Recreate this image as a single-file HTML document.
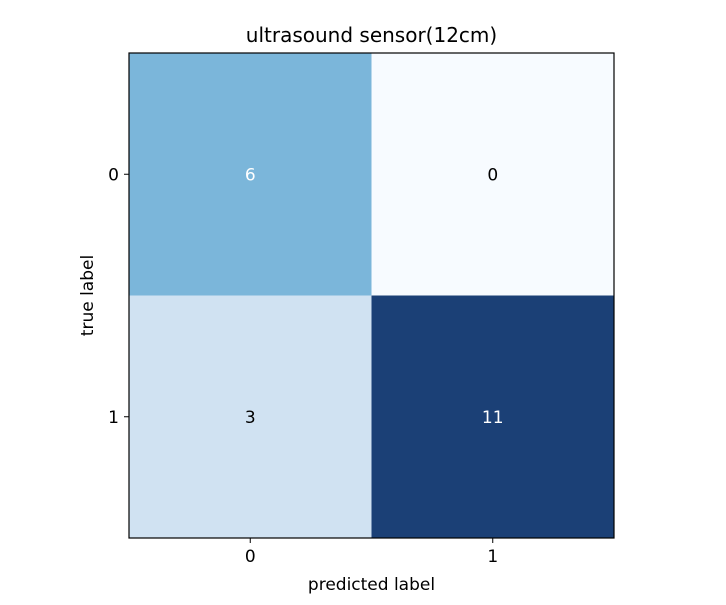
<!DOCTYPE html>
<html><head><meta charset="utf-8"><style>
body{margin:0;background:#fff;width:726px;height:600px;overflow:hidden;font-family:"Liberation Sans","DejaVu Sans",sans-serif}
</style></head><body>
<svg id="chart" width="726" height="600" font-family="DejaVu Sans, Liberation Sans, sans-serif"></svg>
<script>
const rowLabels=["0","1"];
const colLabels=["0","1"];
const values=[[6,0],[3,11]];
const titleText="ultrasound sensor(12cm)";
const svg=document.getElementById('chart');
const NS="http://www.w3.org/2000/svg";
const L=129,T=53,S=485,n=2,cw=S/n;
const maxV=Math.max(...values.flat()),minV=Math.min(...values.flat());
const stops=["#f7fbff","#deebf7","#c6dbef","#9ecae1","#6baed6","#4292c6","#2171b5","#08519c","#08306b"];
function hx(h){return [1,3,5].map(i=>parseInt(h.substr(i,2),16));}
function color(v){const t=Math.pow((v-minV)/(maxV-minV||1),1.18)*(stops.length-1);const i=Math.min(Math.floor(t),stops.length-2),f=t-i;
const a=hx(stops[i]),b=hx(stops[i+1]);const c=a.map((x,k)=>x+(b[k]-x)*f).map(x=>Math.round(0.92*x+20));return `rgb(${c})`;}
function xs(j){return L+j*cw;} function ys(i){return T+i*cw;}
function el(tag,attrs,txt){const e=document.createElementNS(NS,tag);for(const k in attrs)e.setAttribute(k,attrs[k]);if(txt!==undefined)e.textContent=txt;svg.appendChild(e);return e;}
values.forEach((row,i)=>row.forEach((v,j)=>{
 const r=el('rect',{x:xs(j),y:ys(i),width:cw+0.5,height:cw+0.5,fill:color(v)});
 
 
 const t=el('text',{x:xs(j)+cw/2,y:ys(i)+cw/2+6,'text-anchor':'middle','font-size':17,fill:v>maxV/2?'#fff':'#000'},String(v));
 
 
}));
const fr=el('rect',{x:L,y:T,width:S,height:S,fill:'none',stroke:'#000','stroke-width':1.2});


colLabels.forEach((c,j)=>{const x=xs(j)+cw/2;
 el('line',{x1:x,x2:x,y1:T+S,y2:T+S+5,stroke:'#000'});
 const t=el('text',{x:x,y:T+S+24,'text-anchor':'middle','font-size':17},c);
 
 });
rowLabels.forEach((c,i)=>{const y=ys(i)+cw/2;
 el('line',{x1:L-5,x2:L,y1:y,y2:y,stroke:'#000'});
 const t=el('text',{x:L-10,y:y+6,'text-anchor':'end','font-size':17},c);
 
 });
const tt=el('text',{x:L+S/2,y:42,'text-anchor':'middle','font-size':20},titleText);


const xl=el('text',{x:L+S/2,y:590,'text-anchor':'middle','font-size':17},'predicted label');


const yl=el('text',{x:0,y:0,'text-anchor':'middle','font-size':17,transform:`translate(93,${T+S/2}) rotate(-90)`},'true label');


</script>
</body></html>
